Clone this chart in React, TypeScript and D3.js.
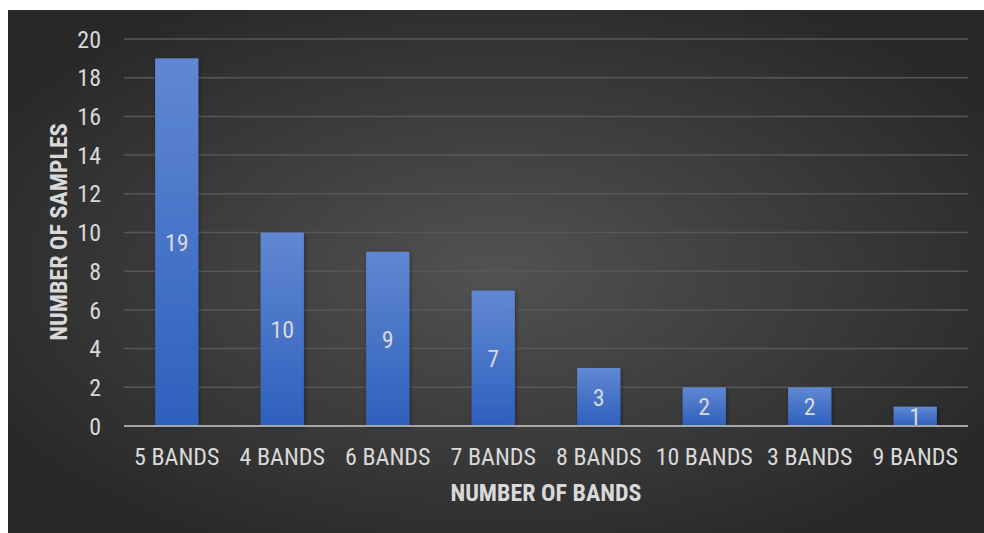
import React from "react";
import * as d3 from "d3";

const categories = ["5 BANDS", "4 BANDS", "6 BANDS", "7 BANDS", "8 BANDS", "10 BANDS", "3 BANDS", "9 BANDS"];
const samples = [19, 10, 9, 7, 3, 2, 2, 1];
const yTicks = [0, 2, 4, 6, 8, 10, 12, 14, 16, 18, 20];
const xTitle = "NUMBER OF BANDS";
const yTitle = "NUMBER OF SAMPLES";

const W = 984;
const H = 533;
const FONT = "'Roboto Condensed', 'Liberation Sans Narrow', Roboto, sans-serif";

export default function App() {
  const x = d3.scaleBand<string>().domain(categories).range([124, 968]).paddingInner(0.59).paddingOuter(0.295);
  const y = d3.scaleLinear().domain([0, 20]).range([426, 39]);
  const textColor = "#d9d9d9";

  return (
    <svg width={W} height={H} style={{ position: "absolute", left: 0, top: 0 }}>
      <defs>
        <radialGradient id="bg" cx="0.5" cy="0.5" r="0.6">
          <stop offset="0" stopColor="#525252" />
          <stop offset="1" stopColor="#282828" />
        </radialGradient>
        <linearGradient id="bar" x1="0" y1="0" x2="0" y2="1">
          <stop offset="0" stopColor="#6088d2" />
          <stop offset="1" stopColor="#2e60bd" />
        </linearGradient>
        <filter id="shadow" x="-20%" y="-5%" width="140%" height="110%">
          <feDropShadow dx="1" dy="1" stdDeviation="2" floodColor="#000" floodOpacity="0.4" />
        </filter>
      </defs>
      <rect x={0} y={0} width={W} height={H} fill="#ffffff" />
      <rect x={8} y={10} width={976} height={523} fill="url(#bg)" />
      <g>
        {yTicks.filter((t) => t > 0).map((t) => (
          <line key={t} x1={124} x2={968} y1={y(t)} y2={y(t)} stroke="#575757" strokeWidth={1.5} />
        ))}
      </g>
      <g>
        {categories.map((c, i) => (
          <rect
            key={c}
            x={x(c)}
            y={y(samples[i])}
            width={x.bandwidth()}
            height={y(0) - y(samples[i])}
            fill="url(#bar)"
            filter="url(#shadow)"
          />
        ))}
      </g>
      <line x1={124} x2={968} y1={y(0)} y2={y(0)} stroke="#a6a6a6" strokeWidth={2} />
      <g fontFamily={FONT} fill={textColor} fontSize={24}>
        {yTicks.map((t) => (
          <text key={t} x={101} y={y(t)} dy="0.36em" textAnchor="end">
            {t}
          </text>
        ))}
        {categories.map((c) => (
          <text key={c} x={(x(c) ?? 0) + x.bandwidth() / 2} y={456} dy="0.36em" textAnchor="middle">
            {c}
          </text>
        ))}
        {categories.map((c, i) => (
          <text
            key={"l" + c}
            x={(x(c) ?? 0) + x.bandwidth() / 2}
            y={(y(samples[i]) + y(0)) / 2}
            dy="0.36em"
            textAnchor="middle"
          >
            {samples[i]}
          </text>
        ))}
        <text x={546} y={492} dy="0.36em" textAnchor="middle" fontWeight="bold">
          {xTitle}
        </text>
        <text
          transform={`translate(58,232) rotate(-90)`}
          dy="0.36em"
          textAnchor="middle"
          fontWeight="bold"
        >
          {yTitle}
        </text>
      </g>
    </svg>
  );
}
